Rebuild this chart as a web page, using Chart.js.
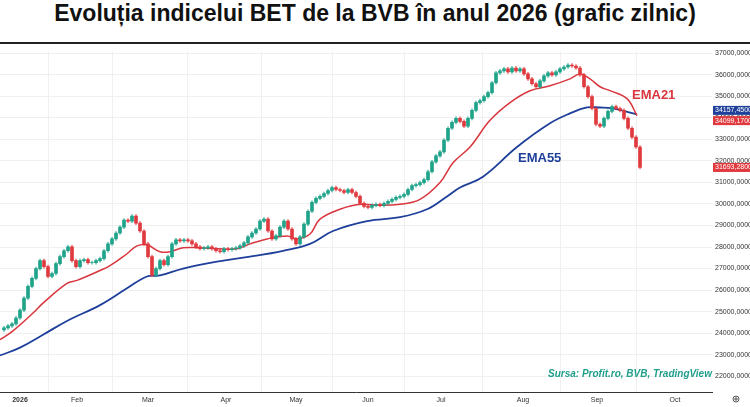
<!DOCTYPE html>
<html><head><meta charset="utf-8">
<script src="https://cdn.jsdelivr.net/npm/chart.js@4"></script>
<style>
html,body{margin:0;padding:0;background:#fff;width:750px;height:407px;overflow:hidden}
#t{height:42px;line-height:44px;text-align:center;font:bold 23px "Liberation Sans",Arial,sans-serif;color:#111;border-bottom:2px solid #222}
#w{position:relative;width:750px;height:363px}
</style></head><body>
<div id="t">Evoluția indicelui BET de la BVB în anul 2026 (grafic zilnic)</div>
<div id="w"><canvas id="c"></canvas></div>
<script>
const firstOpen = 24150;
const closes = [24248,24340,24432,24707,25074,25624,26175,26542,27000,27367,27092,26633,26771,27230,27551,27826,28009,27367,27092,27367,
27413,27276,27276,27367,27459,27826,28147,28376,28652,28927,29248,29202,29431,29110,28743,28147,27551,26679,27000,27367,
27184,27551,28147,28331,28285,28331,28285,28147,28009,27918,27964,28009,27918,27826,27780,27918,27872,27918,27964,28055,
28193,28468,28652,28835,29202,29294,28743,28376,28514,28927,29202,28835,28376,28147,28468,29064,29661,30074,30257,30349,
30486,30624,30762,30670,30624,30532,30670,30532,30349,30028,29890,29844,29936,29982,29936,30028,30119,30211,30303,30349,
30441,30670,30853,30899,30991,31129,31496,31954,32230,32413,32963,33514,33789,33973,33835,33606,33973,34340,34706,34798,
34982,35165,35624,36083,36174,36266,36128,36312,36174,36266,36037,35807,35578,35440,35716,35945,36083,35991,36128,36266,
36358,36450,36404,36312,35991,35440,34982,34431,33697,33606,33973,34294,34523,34431,34340,33973,33514,33101,32642,31693];
const wick = 70;
const ema21Idx = [-1,2.25,7.25,9.75,15.75,18.25,24,26.5,30.75,33.25,35.75,39,41.5,44.75,49,53.25,58.25,61.5,65.75,70.75,73.25,76.5,79,84,89,94,99,104,109,112.25,116.5,121.5,126.5,131.5,136.5,141.5,144,146.5,149,151.5,155.75,158.25];
const ema21Val = [23698,24111,24936,25395,26312,26450,26909,27138,27688,28055,28101,27780,27780,27964,27964,27918,27918,28147,28376,28514,28376,28606,29294,29753,29982,29936,29982,30211,30991,31908,32642,33881,34706,35257,35486,35807,36037,35807,35440,35257,34890,34099];
const ema55Idx = [-1,4,9.75,15.75,24,30.75,35.75,39,44.75,53.25,61.5,69.75,76.5,82.25,90.75,99,105.75,110.75,114,119.75,128.25,136.5,141.5,145.75,149,152.25,158.25];
const ema55Val = [22964,23331,23927,24569,25303,26083,26633,26679,27000,27321,27551,27826,28147,28743,29202,29386,29753,30349,30762,31266,32642,33743,34202,34477,34477,34431,34157];
const monthPos = [4,18.25,36,55.5,73,91,109.25,129.75,148.25,167.75];
const monthLabels = ['2026','Feb','Mar','Apr','May','Jun','Jul','Aug','Sep','Oct'];
const priceTags = [{v:34157.45,t:'34157,4500',c:'#1e3f9a',d:-4},{v:34099.17,t:'34099,1700',c:'#e0393e',d:5},{v:31693.28,t:'31693,2800',c:'#e0393e',d:0}];

const GREEN='#1fa38a', RED='#e0393e';
const opens = closes.map((c,i)=> i===0 ? firstOpen : closes[i-1]);
const colors = closes.map((c,i)=> c>=opens[i] ? GREEN : RED);
const bodies = closes.map((c,i)=>({x:i,y:[opens[i],c]}));
const wicks = closes.map((c,i)=>({x:i,y:[Math.min(opens[i],c)-wick,Math.max(opens[i],c)+wick]}));

const overlay = {id:'ov',afterDraw(ch){
  const g=ch.ctx, y=ch.scales.y, ca=ch.chartArea;
  g.save();
  g.font='7px "Liberation Sans",Arial';g.textBaseline='middle';
  priceTags.forEach(p=>{const py=y.getPixelForValue(p.v)+p.d;g.fillStyle=p.c;g.fillRect(ca.right+1,py-4.5,37,9);g.fillStyle='#fff';g.fillText(p.t,ca.right+3,py);});
  g.font='bold 13px "Liberation Sans",Arial';g.fillStyle='#d9363e';g.fillText('EMA21',632,51);
  g.fillStyle='#1e3f9a';g.fillText('EMA55',518,114);
  g.font='italic bold 10px "Liberation Sans",Arial';g.fillStyle='#1f9e8a';g.fillText('Sursa: Profit.ro, BVB, TradingView',548,330);
  g.strokeStyle='#555';g.lineWidth=1;g.beginPath();g.arc(736,355,3,0,Math.PI*2);g.stroke();
  g.beginPath();g.moveTo(734,355);g.lineTo(738,355);g.moveTo(736,353);g.lineTo(736,357);g.stroke();
  g.restore();
}};

new Chart(document.getElementById('c'),{
  data:{datasets:[
    {type:'line',data:ema55Idx.map((x,i)=>({x,y:ema55Val[i]})),borderColor:'#1e3f9a',borderWidth:1.8,pointRadius:0,tension:0.4,order:3},
    {type:'line',data:ema21Idx.map((x,i)=>({x,y:ema21Val[i]})),borderColor:'#d9363e',borderWidth:1.5,pointRadius:0,tension:0.4,order:2},
    {type:'bar',data:wicks,backgroundColor:colors.map(c=>c+'aa'),barThickness:1,grouped:false,order:1},
    {type:'bar',data:bodies,backgroundColor:colors,barThickness:3,grouped:false,order:0}
  ]},
  options:{responsive:true,maintainAspectRatio:false,animation:false,
    layout:{padding:{top:1,left:0,right:0,bottom:0}},
    plugins:{legend:{display:false},tooltip:{enabled:false}},
    scales:{
      x:{type:'linear',min:-1,max:177,offset:false,
        afterBuildTicks(s){s.ticks=monthPos.map(v=>({value:v}));},
        afterFit(s){s.height=15;},
        grid:{color:'#f0f0f0',drawTicks:false},border:{color:'#333'},
        ticks:{padding:4,color:'#333',font:c=>({size:7,weight:c.index===0?'bold':'normal',family:'"Liberation Sans",Arial'}),callback:(v,i)=>monthLabels[i]}},
      y:{position:'right',min:21270,max:37090,
        afterBuildTicks(s){const t=[];for(let v=22000;v<=37000;v+=1000)t.push({value:v});s.ticks=t;},
        afterFit(s){s.width=38;},
        grid:{color:'#f0f0f0',drawTicks:false},border:{display:false},
        ticks:{padding:3,color:'#333',font:{size:7,family:'"Liberation Sans",Arial'},callback:v=>v+',0000'}}
    }},
  plugins:[overlay]
});
</script></body></html>
